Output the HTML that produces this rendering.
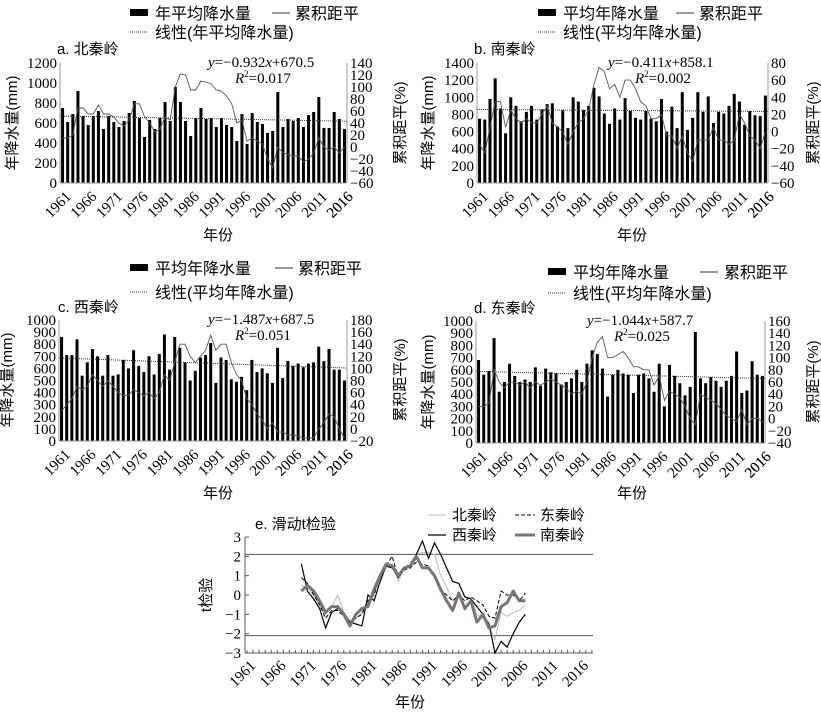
<!DOCTYPE html>
<html><head><meta charset="utf-8">
<style>
html,body{margin:0;padding:0;background:#fff;}
svg{display:block;font-family:"Liberation Serif","Noto Serif CJK SC","Noto Sans CJK SC",serif;}
.cj{font-family:"Liberation Sans","Noto Sans CJK SC",sans-serif;}
</style></head>
<body>
<svg id="s" width="821" height="713" viewBox="0 0 821 713" xmlns="http://www.w3.org/2000/svg">
<g font-size="15" fill="#000">
<rect x="130" y="9" width="18" height="7" fill="#000"/>
<text x="155" y="19" class="cj" font-size="16">年平均降水量</text>
<line x1="272" y1="13" x2="290" y2="13" stroke="#333"/>
<text x="295" y="19" class="cj" font-size="16">累积距平</text>
<line x1="130" y1="32" x2="148" y2="32" stroke="#333" stroke-dasharray="1,1"/>
<text x="155" y="38" class="cj" font-size="16">线性(年平均降水量)</text>
<text x="57" y="54" class="cj" font-size="15">a. 北秦岭</text>
<text x="208" y="67"><tspan font-style="italic">y</tspan>=−0.932<tspan font-style="italic">x</tspan>+670.5</text>
<text x="235" y="83"><tspan font-style="italic">R</tspan><tspan font-size="9" dy="-6">2</tspan><tspan dy="6">=0.017</tspan></text>
<text transform="translate(17,123) rotate(-90)" text-anchor="middle" class="cj" font-size="15">年降水量(mm)</text>
<text transform="translate(405,123) rotate(-90)" text-anchor="middle" class="cj" font-size="15">累积距平(%)</text>
<text x="218" y="240" class="cj" font-size="15" text-anchor="middle">年份</text>

<rect x="538" y="9" width="18" height="7" fill="#000"/>
<text x="563" y="19" class="cj" font-size="16">平均年降水量</text>
<line x1="676" y1="13" x2="694" y2="13" stroke="#333"/>
<text x="699" y="19" class="cj" font-size="16">累积距平</text>
<line x1="538" y1="32" x2="556" y2="32" stroke="#333" stroke-dasharray="1,1"/>
<text x="563" y="38" class="cj" font-size="16">线性(平均年降水量)</text>
<text x="474" y="54" class="cj" font-size="15">b. 南秦岭</text>
<text x="608" y="67"><tspan font-style="italic">y</tspan>=−0.411<tspan font-style="italic">x</tspan>+858.1</text>
<text x="635" y="83"><tspan font-style="italic">R</tspan><tspan font-size="9" dy="-6">2</tspan><tspan dy="6">=0.002</tspan></text>
<text transform="translate(433,123) rotate(-90)" text-anchor="middle" class="cj" font-size="15">年降水量(mm)</text>
<text transform="translate(818,123) rotate(-90)" text-anchor="middle" class="cj" font-size="15">累积距平(%)</text>
<text x="632" y="240" class="cj" font-size="15" text-anchor="middle">年份</text>

<rect x="130" y="264" width="18" height="7" fill="#000"/>
<text x="155" y="274" class="cj" font-size="16">平均年降水量</text>
<line x1="275" y1="268" x2="293" y2="268" stroke="#333"/>
<text x="298" y="274" class="cj" font-size="16">累积距平</text>
<line x1="130" y1="292" x2="148" y2="292" stroke="#333" stroke-dasharray="1,1"/>
<text x="155" y="298" class="cj" font-size="16">线性(平均年降水量)</text>
<text x="58" y="312" class="cj" font-size="15">c. 西秦岭</text>
<text x="208" y="324"><tspan font-style="italic">y</tspan>=−1.487<tspan font-style="italic">x</tspan>+687.5</text>
<text x="235" y="340"><tspan font-style="italic">R</tspan><tspan font-size="9" dy="-6">2</tspan><tspan dy="6">=0.051</tspan></text>
<text transform="translate(12,380) rotate(-90)" text-anchor="middle" class="cj" font-size="15">年降水量(mm)</text>
<text transform="translate(405,380) rotate(-90)" text-anchor="middle" class="cj" font-size="15">累积距平(%)</text>
<text x="218" y="498" class="cj" font-size="15" text-anchor="middle">年份</text>

<rect x="548" y="268" width="18" height="7" fill="#000"/>
<text x="573" y="278" class="cj" font-size="16">平均年降水量</text>
<line x1="700" y1="272" x2="718" y2="272" stroke="#333"/>
<text x="724" y="278" class="cj" font-size="16">累积距平</text>
<line x1="548" y1="293" x2="566" y2="293" stroke="#333" stroke-dasharray="1,1"/>
<text x="573" y="299" class="cj" font-size="16">线性(平均年降水量)</text>
<text x="474" y="313" class="cj" font-size="15">d. 东秦岭</text>
<text x="587" y="325"><tspan font-style="italic">y</tspan>=−1.044<tspan font-style="italic">x</tspan>+587.7</text>
<text x="614" y="341"><tspan font-style="italic">R</tspan><tspan font-size="9" dy="-6">2</tspan><tspan dy="6">=0.025</tspan></text>
<text transform="translate(433,382) rotate(-90)" text-anchor="middle" class="cj" font-size="15">年降水量(mm)</text>
<text transform="translate(818,382) rotate(-90)" text-anchor="middle" class="cj" font-size="15">累积距平(%)</text>
<text x="632" y="498" class="cj" font-size="15" text-anchor="middle">年份</text>

<text x="255" y="529" class="cj" font-size="15">e. 滑动t检验</text>
<line x1="428" y1="515" x2="446" y2="515" stroke="#bbb" stroke-width="1"/>
<text x="452" y="520" class="cj" font-size="15">北秦岭</text>
<line x1="515" y1="515" x2="535" y2="515" stroke="#000" stroke-dasharray="4,2"/>
<text x="540" y="520" class="cj" font-size="15">东秦岭</text>
<line x1="428" y1="535" x2="446" y2="535" stroke="#000" stroke-width="1.2"/>
<text x="452" y="540" class="cj" font-size="15">西秦岭</text>
<line x1="515" y1="535" x2="535" y2="535" stroke="#7a7474" stroke-width="3"/>
<text x="540" y="540" class="cj" font-size="15">南秦岭</text>
<text transform="translate(211,595) rotate(-90)" text-anchor="middle" class="cj" font-size="15">t检验</text>
<text x="410" y="707" class="cj" font-size="15" text-anchor="middle">年份</text>
</g>
<g id="gen"></g>
</svg>
<script>
var NS="http://www.w3.org/2000/svg",G=document.getElementById("gen");
function el(t,a,txt){var e=document.createElementNS(NS,t);for(var k in a)e.setAttribute(k,a[k]);if(txt!=null)e.textContent=txt;G.appendChild(e);return e;}
function panel(c){
 var n=56,step=(c.x1-c.x0)/n;
 function xc(i){return c.x0+step*(i+0.5);}
 function yl(v){return c.yb-(v-c.lmin)/(c.lmax-c.lmin)*(c.yb-c.yt);}
 function yr(v){return c.yb-(v-c.rmin)/(c.rmax-c.rmin)*(c.yb-c.yt);}
 for(var i=0;i<n;i++){var v=c.bars[i];el("rect",{x:xc(i)-1.5,y:yl(v),width:3,height:c.yb-yl(v),fill:"#000"});}
 el("line",{x1:c.x0,y1:yl(c.t0),x2:c.x1,y2:yl(c.t1),stroke:"#333","stroke-width":1,"stroke-dasharray":"1,1"});
 var p=[];for(i=0;i<c.cum.length&&i<n;i++)p.push(xc(i).toFixed(1)+","+yr(c.cum[i]).toFixed(1));
 el("polyline",{points:p.join(" "),fill:"none",stroke:"#555","stroke-width":0.9});
 el("line",{x1:c.x0,y1:c.yt,x2:c.x0,y2:c.yb,stroke:"#999"});
 el("line",{x1:c.x1,y1:c.yt,x2:c.x1,y2:c.yb,stroke:"#999"});
 el("line",{x1:c.x0,y1:c.yb,x2:c.x1,y2:c.yb,stroke:"#999"});
 for(var v=c.lmin;v<=c.lmax+1e-6;v+=c.lstep){el("text",{x:c.x0-3,y:yl(v)+5,"text-anchor":"end","font-size":15},String(v));}
 for(v=c.rmin;v<=c.rmax+1e-6;v+=c.rstep){el("text",{x:c.x1+3,y:yr(v)+5,"font-size":15},(v<0?"−"+(-v):String(v)));}
 for(i=0;i<n;i+=5){var x=xc(i)+2,y=c.yb+7;el("text",{transform:"translate("+x+","+y+") rotate(-45)","text-anchor":"end","font-size":15,dy:"0.7em"},String(1961+i));}
 el("text",{transform:"translate("+(xc(55)+2)+","+(c.yb+7)+") rotate(-45)","text-anchor":"end","font-size":15,dy:"0.7em"},"2016");
}
panel({x0:60,x1:347,yt:63,yb:183,lmin:0,lmax:1200,lstep:200,rmin:-60,rmax:140,rstep:20,t0:670,t1:618,
bars:[750,610,690,920,670,580,670,720,540,670,610,560,620,700,820,650,460,630,540,650,810,620,960,810,620,470,650,750,640,650,560,650,580,560,420,690,390,700,610,590,500,520,910,560,640,620,650,560,680,710,860,550,550,710,640,540,720],
cum:[15,15,20,65,65,55,55,70,55,55,50,40,35,45,72,72,50,40,25,30,50,45,100,122,120,95,95,110,108,105,95,93,85,72,40,45,10,15,10,5,-20,-35,0,-10,-12,-15,-15,-25,-20,-10,15,0,-5,0,-10,0]});
panel({x0:477,x1:768,yt:63,yb:183,lmin:0,lmax:1400,lstep:200,rmin:-60,rmax:80,rstep:20,t0:858,t1:835,
bars:[750,740,980,1220,870,580,1000,900,720,830,900,740,860,920,930,660,850,640,1000,950,850,900,1110,1010,810,690,870,740,990,840,760,740,840,750,720,980,600,890,640,1060,620,760,1060,830,1010,700,830,810,900,1040,950,680,840,790,780,1020],
cum:[-15,-25,5,35,35,5,25,15,10,15,10,10,20,30,10,5,0,-15,0,10,15,25,55,75,70,50,55,40,60,60,50,35,30,15,15,20,-5,-5,-20,-5,-25,-35,-10,-10,-10,5,-10,-10,-15,-10,20,10,-5,-10,-20,0]});
panel({x0:59,x1:347,yt:320,yb:441,lmin:0,lmax:1000,lstep:100,rmin:-20,rmax:180,rstep:20,t0:686,t1:603,
bars:[860,710,710,840,540,650,760,700,540,710,540,550,670,600,750,620,570,700,550,720,880,590,860,770,650,500,580,690,710,810,480,690,670,510,490,530,420,670,570,600,560,480,770,520,660,620,640,610,640,650,780,660,760,590,590,500,680],
cum:[30,40,50,70,65,70,90,80,70,80,70,60,55,55,65,60,55,60,50,60,90,80,110,140,140,120,110,120,130,155,130,140,140,110,90,80,50,40,25,15,0,10,-5,-5,-10,-10,-12,-15,-15,-15,0,10,25,20,0,-15,-5]});
panel({x0:476,x1:765,yt:321,yb:443,lmin:0,lmax:1000,lstep:100,rmin:-40,rmax:160,rstep:20,t0:587,t1:529,
bars:[680,560,590,860,420,500,650,550,500,520,500,620,470,610,580,570,480,500,530,600,500,650,760,730,610,380,560,600,570,560,410,560,570,530,420,650,300,640,550,490,390,460,910,530,490,540,510,460,510,550,750,410,430,670,560,550],
cum:[20,20,25,80,60,50,60,60,55,60,50,60,55,60,65,60,55,50,40,45,40,60,100,125,135,100,100,105,110,100,85,85,80,80,55,70,30,45,40,35,20,0,-10,40,35,30,25,15,5,0,-5,15,-10,0,0,-5]});
(function(){
 var x0=245,x1=593,yt=537,yb=653,st=6.05;
 function X(yr){return x0+(yr-1961)*st+2;}
 function Y(v){return yb-(v+3)/6*(yb-yt);}
 el("line",{x1:x0,y1:Y(2.1),x2:x1,y2:Y(2.1),stroke:"#555"});
 el("line",{x1:x0,y1:Y(-2.1),x2:x1,y2:Y(-2.1),stroke:"#555"});
 el("line",{x1:x0,y1:yt,x2:x0,y2:yb,stroke:"#555"});
 el("line",{x1:x0,y1:yb,x2:x1,y2:yb,stroke:"#555"});
 for(var v=-3;v<=3;v++){el("text",{x:x0-4,y:Y(v)+5,"text-anchor":"end","font-size":15},v<0?"−"+(-v):String(v));el("line",{x1:x0,y1:Y(v),x2:x0+4,y2:Y(v),stroke:"#555"});}
 for(var y=1961;y<=2018;y++){el("line",{x1:X(y),y1:yb,x2:X(y),y2:yb-3,stroke:"#555"});}
 for(y=1961;y<=2016;y+=5){el("text",{transform:"translate("+(X(y)+2)+","+(yb+6)+") rotate(-45)","text-anchor":"end","font-size":15,dy:"0.7em"},String(y));}
 function line(d,a){var p=[];for(var i=0;i<d.length;i++)p.push(X(1970+i).toFixed(1)+","+Y(d[i]).toFixed(1));a.points=p.join(" ");a.fill="none";el("polyline",a);}
 line([0.5,0.4,0.0,-0.5,-1.0,-0.6,0.0,-0.9,-1.3,-1.2,-0.9,-0.4,0.1,1.0,1.5,1.6,0.7,1.4,1.7,2.1,2.2,2.2,2.1,1.0,0.4,-0.3,0.0,-0.8,-0.2,-1.0,-1.2,-1.6,-2.3,-0.9,-1.1,-0.9,-0.8,-0.5],{stroke:"#bbb","stroke-width":1});
 line([0.9,0.6,0.0,-0.5,-1.2,-0.8,-0.8,-1.1,-1.4,-1.2,-1.0,-0.3,0.0,1.0,1.5,2.0,0.9,1.3,1.4,1.7,1.6,1.5,1.0,0.3,0.0,-0.3,0.0,-0.3,-0.1,-0.3,-0.5,-1.1,-1.2,0.2,0.0,0.0,-0.3,0.1],{stroke:"#000","stroke-width":1,"stroke-dasharray":"4,2"});
 line([1.6,0.2,-0.2,-0.7,-1.7,-0.9,-0.7,-1.0,-1.4,-1.5,-1.6,0.0,-0.3,0.7,1.5,1.4,0.9,1.4,1.5,2.1,2.8,1.9,2.7,2.1,1.4,0.7,0.6,-0.1,-0.2,-0.6,-1.0,-1.5,-3.0,-2.4,-2.7,-2.0,-1.4,-1.0],{stroke:"#000","stroke-width":1.2});
 line([0.2,0.5,0.2,-0.3,-0.9,-0.6,-0.6,-1.0,-1.6,-1.0,-0.7,-0.6,0.3,1.0,1.6,1.5,1.0,1.4,1.5,2.0,1.4,1.4,1.0,0.3,-0.3,-0.8,0.1,-0.7,-0.3,-1.4,-1.0,-1.7,-1.6,-0.6,-0.4,0.2,-0.3,-0.3],{stroke:"#7a7474","stroke-width":3,"stroke-linejoin":"round"});
})();
</script>
</body></html>
